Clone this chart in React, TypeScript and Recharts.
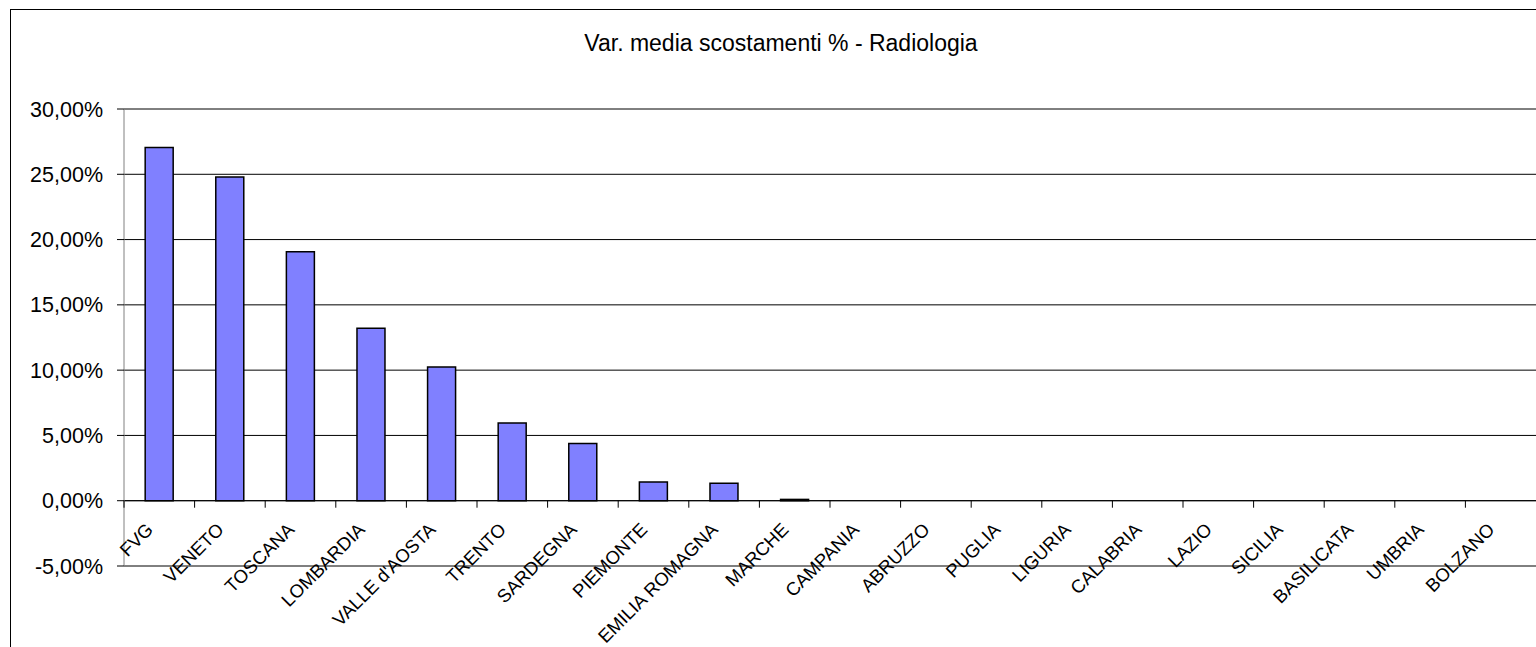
import { Bar, BarChart, CartesianGrid, ReferenceLine, XAxis, YAxis } from "recharts";

const regions = [
  "FVG",
  "VENETO",
  "TOSCANA",
  "LOMBARDIA",
  "VALLE d'AOSTA",
  "TRENTO",
  "SARDEGNA",
  "PIEMONTE",
  "EMILIA ROMAGNA",
  "MARCHE",
  "CAMPANIA",
  "ABRUZZO",
  "PUGLIA",
  "LIGURIA",
  "CALABRIA",
  "LAZIO",
  "SICILIA",
  "BASILICATA",
  "UMBRIA",
  "BOLZANO",
];

const variations = [
  0.2705, 0.248, 0.1907, 0.132, 0.1024, 0.0595, 0.0439, 0.0143, 0.0133, 0.001,
  0, 0, 0, 0, 0, 0, 0, 0, 0, 0,
];

const yTicks = [-0.05, 0, 0.05, 0.1, 0.15, 0.2, 0.25, 0.3];

const data = regions.map((name, i) => ({ name, value: variations[i] }));

const WIDTH = 1536;
const HEIGHT = 647;
const TOP = 109;
const AXIS_W = 124;
const XAXIS_H = 81;
const PLOT_H = HEIGHT - TOP - XAXIS_H;
const BAND = (WIDTH - AXIS_W) / regions.length;
const ZERO_Y = TOP + (PLOT_H * 0.3) / 0.35;

function formatPercent(v: number) {
  return (v * 100).toFixed(2).replace(".", ",") + "%";
}

// category labels sit under the 0% line, not under the bottom of the plot
function CategoryTick(props: any) {
  const { x, payload } = props;
  const left = x - BAND / 2;
  const ax = x - 5;
  const ay = ZERO_Y + 30;
  return (
    <g>
      <line x1={left} x2={left} y1={ZERO_Y} y2={ZERO_Y + 7} stroke="#000" />
      <text
        x={ax}
        y={ay}
        textAnchor="end"
        transform={`rotate(-45 ${ax} ${ay})`}
        fontSize={18.5}
        fill="#000"
        fontFamily="Liberation Sans, Arial, sans-serif"
      >
        {payload.value}
      </text>
    </g>
  );
}

export default function App() {
  return (
    <div
      style={{
        position: "absolute",
        left: 0,
        top: 0,
        width: WIDTH,
        height: HEIGHT,
        overflow: "hidden",
        background: "#fff",
        fontFamily: "Liberation Sans, Arial, sans-serif",
      }}
    >
      <div
        style={{
          position: "absolute",
          left: 10,
          top: 9,
          width: WIDTH + 20,
          height: HEIGHT + 20,
          borderLeft: "1.5px solid #000",
          borderTop: "1.5px solid #000",
        }}
      />
      <div
        style={{
          position: "absolute",
          left: 0,
          width: 1562,
          top: 30,
          textAlign: "center",
          fontSize: 23,
          color: "#000",
        }}
      >
        Var. media scostamenti % - Radiologia
      </div>
      <div style={{ position: "absolute", left: 0, top: 0 }}>
        <BarChart
          width={WIDTH}
          height={HEIGHT}
          data={data}
          margin={{ top: TOP, right: 0, bottom: 0, left: 0 }}
          barCategoryGap="30%"
        >
          <CartesianGrid vertical={false} stroke="#000" />
          <XAxis
            dataKey="name"
            height={XAXIS_H}
            interval={0}
            axisLine={false}
            tickLine={false}
            tick={<CategoryTick />}
          />
          <YAxis
            width={AXIS_W}
            domain={[-0.05, 0.3]}
            ticks={yTicks}
            tickFormatter={formatPercent}
            tickSize={7}
            tickMargin={14}
            axisLine={{ stroke: "#808080" }}
            tickLine={{ stroke: "#000" }}
            tick={{ fill: "#000", fontSize: 21.5 }}
          />
          <ReferenceLine y={0} stroke="#000" />
          <Bar
            dataKey="value"
            fill="#8080FF"
            stroke="#000"
            strokeWidth={1.5}
            isAnimationActive={false}
          />
        </BarChart>
      </div>
    </div>
  );
}
